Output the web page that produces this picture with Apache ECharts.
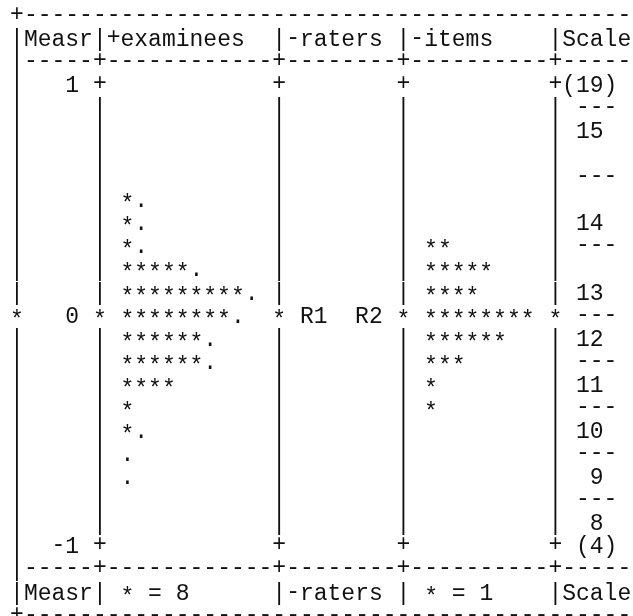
<!DOCTYPE html>
<html><head><meta charset="utf-8">
<script src="https://cdn.jsdelivr.net/npm/echarts@6/dist/echarts.min.js"></script>
<style>html,body{margin:0;padding:0;background:#fff;overflow:hidden}#c{width:633px;height:616px}</style>
</head><body><div id="c"></div>
<script>
// ---------- values read from the FACETS vertical ruler ----------
const examineeMeasures = [0.5, 0.4, 0.3, 0.2, 0.1, 0.0, -0.1, -0.2, -0.3, -0.4, -0.5, -0.6, -0.7];
const examineeCounts   = [12, 12, 12, 44, 76, 68, 52, 52, 32, 8, 12, 4, 4]; // '*' = 8, '.' = 1..7
const raterLabels   = ['R1', 'R2'];
const raterMeasures = [0.0, 0.0];
const itemMeasures = [0.3, 0.2, 0.1, 0.0, -0.1, -0.2, -0.3, -0.4];
const itemCounts   = [2, 5, 4, 8, 6, 3, 1, 1];                               // '*' = 1
const rulerTicks = [1, 0, -1];
const scaleCategories       = [19, 15, 14, 13, 12, 11, 10, 9, 8, 4];
const scaleCategoryMeasures = [1.0, 0.8, 0.4, 0.1, -0.1, -0.3, -0.5, -0.7, -0.9, -1.0];
const scaleThresholds       = [0.9, 0.6, 0.3, 0.0, -0.2, -0.4, -0.6, -0.8];
const examineesPerStar = 8;
const itemsPerStar = 1;
const facetHeaders = ['Measr', '+examinees', '-raters', '-items', 'Scale'];
const facetFooters = ['Measr', ' * = ' + examineesPerStar, '-raters', ' * = ' + itemsPerStar, 'Scale'];

// ---------- layout of the text printout ----------
const sepCols = [0, 6, 19, 28, 39];
const totalCols = 46;
const FONT = '23px "Liberation Mono", "DejaVu Sans Mono", monospace';
const INK = '#111';
const TEXT_DY = 2.5;                          // baseline nudge for letters/digits
const GLYPH_DY = { '*': 4, '-': -2, '+': -2 }; // per-glyph nudges so marks sit at mid-height

const r1 = v => Math.round(v * 10);   // measure -> tenths (row id)

// frame lines, one per tenth from +1.3 down to -1.3
const frameRows = [];
for (let t = 13; t >= -13; t--) {
  const a = new Array(totalCols).fill(' ');
  const at = (c, s) => { for (let i = 0; i < s.length && c + i < totalCols; i++) a[c + i] = s[i]; };
  if (Math.abs(t) === 13) {
    a.fill('-'); a[0] = '+';
  } else if (Math.abs(t) === 12) {
    const labs = t > 0 ? facetHeaders : facetFooters;
    sepCols.forEach((c, i) => { a[c] = '|'; at(c + 1, labs[i]); });
  } else if (Math.abs(t) === 11) {
    a.fill('-'); sepCols.forEach((c, i) => { a[c] = i === 0 ? '|' : '+'; });
  } else {
    const isTick = rulerTicks.some(v => r1(v) === t);
    sepCols.forEach((c, i) => {
      if (t === 0) a[c] = '*';
      else if (i > 0 && isTick) a[c] = '+';
      else a[c] = '|';
    });
    if (t === 0) a[totalCols - 1] = '*';
  }
  frameRows.push({ m: t / 10, text: a.join('') });
}

// one text line, drawn in passes so each glyph class gets its own vertical nudge
function textItem(api, col, m, text, align) {
  const p = api.coord([col, m]);
  const special = Object.keys(GLYPH_DY);
  const mk = (s, dy) => ({ type: 'text', x: p[0], y: p[1] + dy,
    style: { text: s, font: FONT, fill: INK, align: align || 'left', verticalAlign: 'middle' } });
  const children = [];
  const base = text.split('').map(ch => special.includes(ch) ? ' ' : ch).join('');
  if (base.trim()) children.push(mk(base, TEXT_DY));
  special.forEach(g => {
    const s = text.split('').map(ch => ch === g ? ch : ' ').join('');
    if (s.trim()) children.push(mk(s, TEXT_DY + GLYPH_DY[g]));
  });
  return { type: 'group', children };
}

const chart = echarts.init(document.getElementById('c'), null, { renderer: 'canvas' });
chart.setOption({
  backgroundColor: '#fff',
  animation: false,
  grid: { left: 17, top: 14, width: 44 * 13.8, height: 600, outerBoundsMode: 'none' },
  xAxis: { type: 'value', min: 0, max: 44, show: false },
  yAxis: { type: 'value', min: -1.3, max: 1.3, show: false },
  series: [
    { // printout frame
      type: 'custom', silent: true, clip: false,
      data: frameRows.map(r => [0, r.m]),
      renderItem: (params, api) => textItem(api, -0.5, api.value(1), frameRows[params.dataIndex].text)
    },
    { // measure ruler labels
      type: 'custom', silent: true, clip: false,
      data: rulerTicks.map(v => [4, v]),
      renderItem: (params, api) => textItem(api, 4.5, api.value(1), String(rulerTicks[params.dataIndex]), 'right')
    },
    { // examinees
      type: 'custom', silent: true, clip: false,
      data: examineeMeasures.map((m, i) => [examineeCounts[i], m]),
      renderItem: (params, api) => {
        const n = api.value(0);
        const s = '*'.repeat(Math.floor(n / examineesPerStar)) + (n % examineesPerStar ? '.' : '');
        return textItem(api, 7.5, api.value(1), s);
      }
    },
    { // raters
      type: 'custom', silent: true, clip: false,
      data: raterMeasures.map((m, i) => [i, m]),
      renderItem: (params, api) => textItem(api, 20.5 + 4 * api.value(0), api.value(1), raterLabels[params.dataIndex])
    },
    { // items
      type: 'custom', silent: true, clip: false,
      data: itemMeasures.map((m, i) => [itemCounts[i], m]),
      renderItem: (params, api) => textItem(api, 29.5, api.value(1), '*'.repeat(Math.round(api.value(0) / itemsPerStar)))
    },
    { // scale categories
      type: 'custom', silent: true, clip: false,
      data: scaleCategoryMeasures.map((m, i) => [scaleCategories[i], m]),
      renderItem: (params, api) => {
        const i = params.dataIndex, last = scaleCategories.length - 1;
        const extreme = i === 0 || i === last;
        const s = extreme ? '(' + api.value(0) + ')' : String(api.value(0));
        return textItem(api, extreme ? 43.5 : 42.5, api.value(1), s, 'right');
      }
    },
    { // scale category thresholds
      type: 'custom', silent: true, clip: false,
      data: scaleThresholds.map(m => [41, m]),
      renderItem: (params, api) => textItem(api, 40.5, api.value(1), '---')
    }
  ]
});
</script></body></html>
